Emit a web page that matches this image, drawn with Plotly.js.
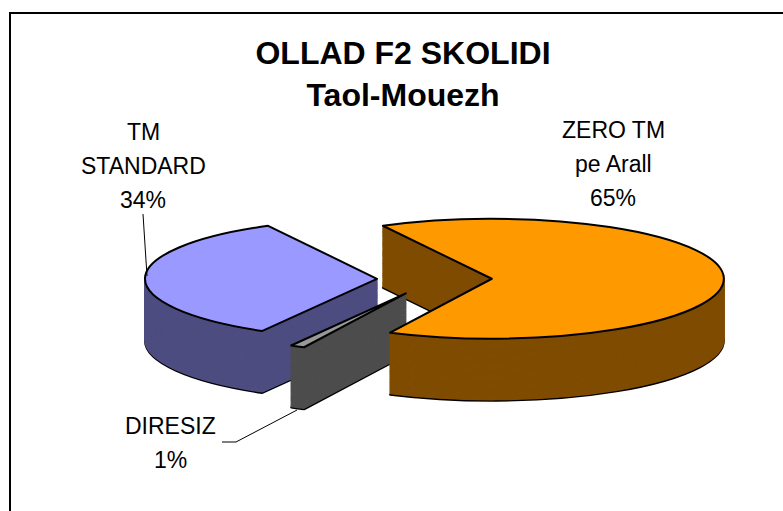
<!DOCTYPE html>
<html>
<head>
<meta charset="utf-8">
<script src="https://cdn.plot.ly/plotly-3.0.1.min.js"></script>
<style>html,body{margin:0;padding:0;background:#fff;}#chart{width:783px;height:511px;}</style>
</head>
<body>
<div id="chart"></div>
<script>
// Data
var categories = ["ZERO TM pe Arall", "DIRESIZ", "TM STANDARD"];
var labelLines = [["ZERO TM", "pe Arall"], ["DIRESIZ"], ["TM", "STANDARD"]];
var values = [65, 1, 34];
var topColors = ["#FF9900", "#999999", "#9999FF"];
var sideColors = ["#7F4C00", "#4D4D4D", "#4D4D80"];
var titleLines = ["OLLAD F2 SKOLIDI", "Taol-Mouezh"];

var total = values.reduce(function(a, b){ return a + b; }, 0);
function pct(v){ return Math.round(100 * v / total) + "%"; }

var W = 783, H = 511;
function px(x){ return x / W; }
function py(y){ return 1 - y / H; }

// pre-transform pie geometry (the pie layer is later squashed into a 3-D looking ellipse)
var pulls = [0.245, 0.27, 0.25];
var maxPull = Math.max.apply(null, pulls);
var pcx = 200, pcy = 150, half = 80;
var rEst = half / (1 + maxPull);
var RX = 232, RY = 60, DEPTH = 62;          // target ellipse radii & thickness
var ECX = 435, ECY = 279;                  // target ellipse centre
var shiftPre = DEPTH * rEst / RY;
var NCOPIES = 56;

function dom(shift){
  return {
    x: [px(pcx - half), px(pcx + half)],
    y: [py(pcy + shift + half), py(pcy + shift - half)]
  };
}
function pieTrace(colors, shift, lineColors, lineW){
  return {
    type: "pie", values: values, labels: categories, sort: false,
    direction: "clockwise", rotation: -28, pull: pulls,
    marker: {colors: colors, line: {color: lineColors, width: lineW}},
    textinfo: "none", hoverinfo: "skip", showlegend: false,
    domain: dom(shift)
  };
}
var traces = [pieTrace(sideColors, shiftPre, "#000", 2)];
for (var k = NCOPIES - 1; k >= 1; k--) {
  traces.push(pieTrace(sideColors, shiftPre * k / NCOPIES, sideColors, 1.5));
}
traces.push(pieTrace(topColors, 0, "#000", 2));

var FONT = "Liberation Sans, Arial, sans-serif";
var labelPos = [[613, 130], [170, 426], [143, 132]];
var annotations = [];
labelLines.forEach(function(lines, i){
  var all = lines.concat([pct(values[i])]);
  all.forEach(function(t, j){
    annotations.push({
      xref: "paper", yref: "paper", x: px(labelPos[i][0]), y: py(labelPos[i][1] + 34 * j),
      xanchor: "center", yanchor: "middle", showarrow: false, text: t,
      font: {family: FONT, size: 23, color: "#000"}
    });
  });
});

function P(x, y){ return px(x) + "," + py(y); }

var layout = {
  width: W, height: H,
  margin: {l: 0, r: 0, t: 0, b: 0},
  paper_bgcolor: "#fff", plot_bgcolor: "#fff",
  title: {
    text: "<b>" + titleLines.join("<br>") + "</b>",
    font: {family: FONT, size: 32, color: "#000"},
    x: px(403), xanchor: "center", y: py(64), yanchor: "middle",
    xref: "paper", yref: "paper"
  },
  annotations: annotations,
  shapes: [
    {type: "rect", xref: "paper", yref: "paper", x0: px(10), x1: 1.02, y0: -0.02, y1: py(13),
     line: {color: "#000", width: 2}, fillcolor: "rgba(0,0,0,0)", layer: "below"},
    {type: "path", xref: "paper", yref: "paper", path: "M" + P(143, 214) + " L" + P(147, 276),
     line: {color: "#000", width: 1}},
    {type: "path", xref: "paper", yref: "paper",
     path: "M" + P(222, 442) + " L" + P(236, 442) + " L" + P(297, 410),
     line: {color: "#000", width: 1}}
  ]
};

var gd = document.getElementById("chart");
Plotly.newPlot(gd, traces, layout, {displayModeBar: false, staticPlot: true}).then(function(){
  var cd = gd.calcdata[gd.calcdata.length - 1][0];
  var r = (cd && cd.r) ? cd.r : rEst;
  var cx0 = (cd && cd.cx !== undefined) ? cd.cx : pcx;
  var cy0 = (cd && cd.cy !== undefined) ? cd.cy : pcy;
  var sx = RX / r, sy = RY / r;
  var layer = gd.querySelector(".pielayer");
  layer.setAttribute("transform",
    "translate(" + ECX + "," + ECY + ") scale(" + sx + "," + sy + ") translate(" + (-cx0) + "," + (-cy0) + ")");
  layer.querySelectorAll("path").forEach(function(p){
    p.setAttribute("vector-effect", "non-scaling-stroke");
    p.style.vectorEffect = "non-scaling-stroke";
  });
});
</script>
</body>
</html>
